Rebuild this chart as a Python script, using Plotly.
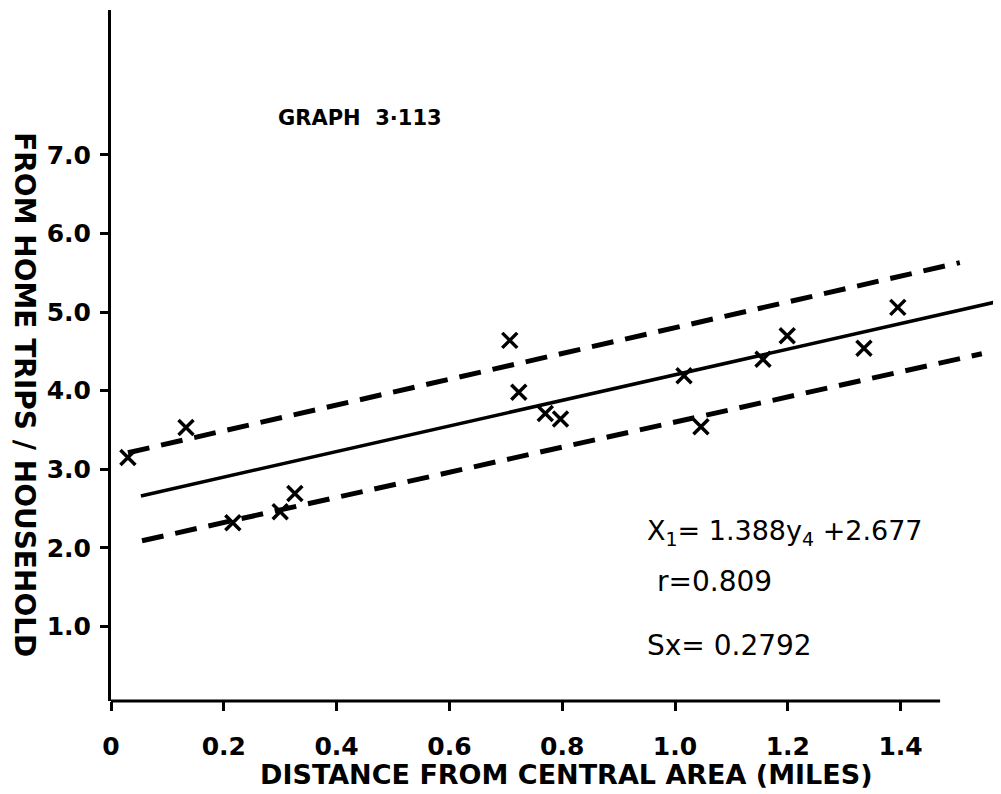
import plotly.graph_objects as go

# Data
distance = [0.030, 0.133, 0.216, 0.300, 0.326, 0.707, 0.723, 0.770, 0.797,
            1.016, 1.046, 1.156, 1.199, 1.335, 1.395]
trips = [3.15, 3.53, 2.32, 2.46, 2.69, 4.64, 3.98, 3.71, 3.64,
         4.19, 3.54, 4.40, 4.70, 4.54, 5.06]

fit_x = [0.053, 1.576]
fit_y = [2.66, 5.14]
upper_x = [0.030, 1.505]
upper_y = [3.21, 5.63]
lower_x = [0.055, 1.544]
lower_y = [2.09, 4.47]

x_tickvals = [0.2, 0.4, 0.6, 0.8, 1.0, 1.2, 1.4]
x_ticktext = ["0.2", "0.4", "0.6", "0.8", "1.0", "1.2", "1.4"]
y_tickvals = [1, 2, 3, 4, 5, 6, 7]
y_ticktext = ["1.0", "2.0", "3.0", "4.0", "5.0", "6.0", "7.0"]

FONT = "DejaVu Sans"

fig = go.Figure()
fig.add_trace(go.Scatter(x=fit_x, y=fit_y, mode="lines",
                         line=dict(color="black", width=3.5), showlegend=False))
fig.add_trace(go.Scatter(x=upper_x, y=upper_y, mode="lines",
                         line=dict(color="black", width=5, dash="22px,12px"),
                         showlegend=False))
fig.add_trace(go.Scatter(x=lower_x, y=lower_y, mode="lines",
                         line=dict(color="black", width=5, dash="22px,12px"),
                         showlegend=False))
fig.add_trace(go.Scatter(x=distance, y=trips, mode="markers",
                         marker=dict(symbol="x-thin", size=15,
                                     line=dict(color="black", width=3.5)),
                         showlegend=False, cliponaxis=False))

fig.update_xaxes(range=[0, 1.578], showgrid=False, zeroline=False, showline=False,
                 tickvals=[0] + x_tickvals, ticktext=["0"] + x_ticktext,
                 ticks="outside", ticklen=9, tickwidth=3, tickcolor="black",
                 ticklabelstandoff=14,
                 tickfont=dict(family=FONT, size=25, color="black", weight="bold"))
fig.update_yaxes(range=[0.05, 8.845], showgrid=False, zeroline=False,
                 showline=True, linecolor="black", linewidth=3,
                 tickvals=y_tickvals, ticktext=y_ticktext,
                 ticks="outside", ticklen=8, tickwidth=3, tickcolor="black",
                 ticklabelstandoff=4,
                 tickfont=dict(family=FONT, size=25, color="black", weight="bold"))

# x axis line (stops short of the plot's right edge, as in the reference)
fig.add_shape(type="line", xref="x", yref="paper", x0=0, x1=1.47, y0=0, y1=0,
              line=dict(color="black", width=3))

ann_font = dict(family=FONT, color="black")
fig.add_annotation(x=0.441, y=7.47, xref="x", yref="y", text="<b>GRAPH  3·113</b>",
                   showarrow=False, font=dict(size=21, **ann_font))
fig.add_annotation(x=0.947, y=2.2, xref="x", yref="y", xanchor="left",
                   text="X<sub>1</sub>= 1.388y<sub>4</sub> +2.677",
                   showarrow=False, font=dict(size=27, **ann_font))
fig.add_annotation(x=0.965, y=1.57, xref="x", yref="y", xanchor="left",
                   text="r=0.809", showarrow=False, font=dict(size=28, **ann_font))
fig.add_annotation(x=0.947, y=0.76, xref="x", yref="y", xanchor="left",
                   text="Sx= 0.2792", showarrow=False, font=dict(size=28, **ann_font))
fig.add_annotation(x=-0.0966, y=0.444, xref="paper", yref="paper", textangle=90,
                   xanchor="center", yanchor="middle",
                   text="<b>FROM HOME TRIPS / HOUSEHOLD</b>", showarrow=False,
                   font=dict(size=28, **ann_font))
fig.add_annotation(x=0.512, y=-0.107, xref="paper", yref="paper",
                   xanchor="center", yanchor="middle",
                   text="<b>DISTANCE FROM CENTRAL AREA (MILES)</b>", showarrow=False,
                   font=dict(size=27, **ann_font))

# the page body adds an 8px offset, so the figure is 8px smaller than the window
fig.update_layout(width=993, height=786, margin=dict(l=103, r=0, t=2, b=93),
                  paper_bgcolor="white", plot_bgcolor="white",
                  font=dict(family=FONT, color="black"))

fig.write_html("out.html")
